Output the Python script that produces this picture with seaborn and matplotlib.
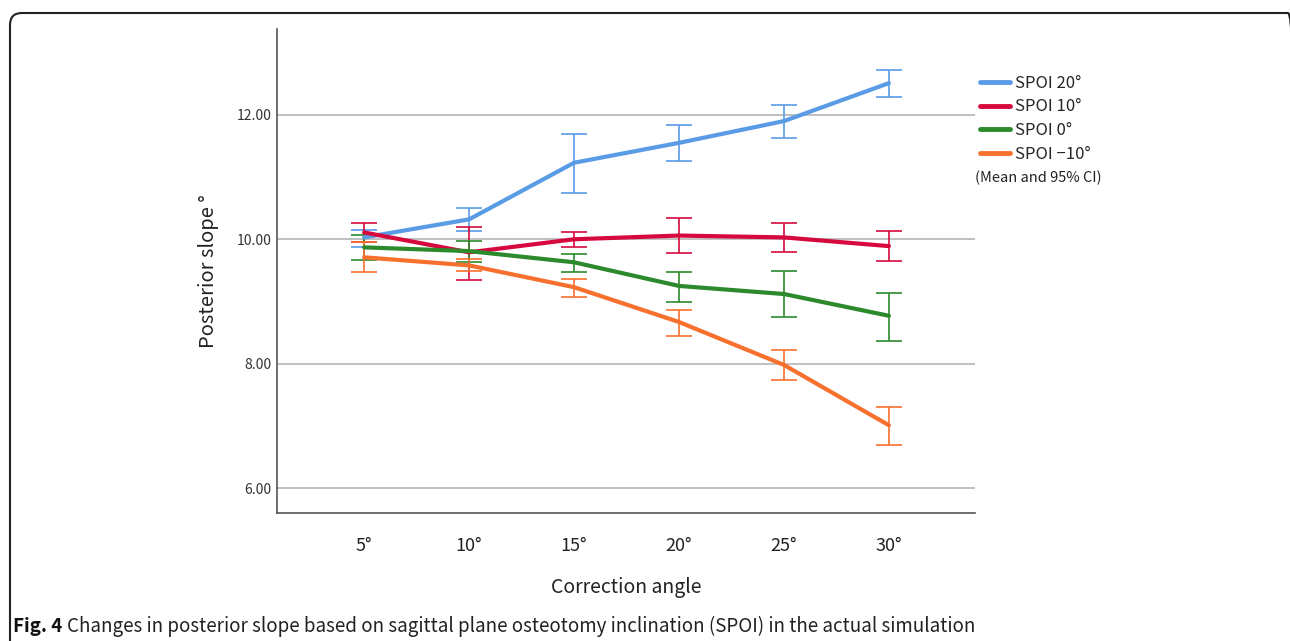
import numpy as np
import pandas as pd
import matplotlib
matplotlib.use("Agg")
import matplotlib.pyplot as plt
import seaborn as sns
from matplotlib.patches import FancyBboxPatch
from matplotlib.lines import Line2D

# ---- data ----
angles = ["5°", "10°", "15°", "20°", "25°", "30°"]
series_names = ["SPOI 20°", "SPOI 10°", "SPOI 0°", "SPOI \u221210°"]

spoi20_mean = [10.03, 10.32, 11.23, 11.55, 11.90, 12.51]
spoi20_lo = [9.87, 10.13, 10.74, 11.26, 11.63, 12.29]
spoi20_hi = [10.15, 10.51, 11.70, 11.84, 12.16, 12.72]

spoi10_mean = [10.11, 9.79, 10.00, 10.06, 10.03, 9.89]
spoi10_lo = [9.95, 9.35, 9.88, 9.78, 9.79, 9.65]
spoi10_hi = [10.26, 10.19, 10.12, 10.34, 10.26, 10.13]

spoi0_mean = [9.87, 9.81, 9.63, 9.25, 9.12, 8.77]
spoi0_lo = [9.67, 9.63, 9.47, 8.99, 8.75, 8.37]
spoi0_hi = [10.07, 9.97, 9.76, 9.47, 9.49, 9.14]

spoim10_mean = [9.71, 9.58, 9.23, 8.67, 7.98, 7.01]
spoim10_lo = [9.47, 9.49, 9.07, 8.45, 7.73, 6.70]
spoim10_hi = [9.95, 9.68, 9.36, 8.86, 8.22, 7.30]

colors = ["#5A9BE6", "#D6093E", "#2C8A2C", "#F7702E"]

means = [spoi20_mean, spoi10_mean, spoi0_mean, spoim10_mean]
los = [spoi20_lo, spoi10_lo, spoi0_lo, spoim10_lo]
his = [spoi20_hi, spoi10_hi, spoi0_hi, spoim10_hi]

rows = []
for name, m, lo, hi in zip(series_names, means, los, his):
    for a, v, l, h in zip(angles, m, lo, hi):
        rows.append({"angle": a, "series": name, "mean": v, "lo": l, "hi": h})
df = pd.DataFrame(rows)

sns.set_style("white")
plt.rcParams["font.family"] = ["Noto Sans CJK KR", "DejaVu Sans"]

W, H = 1290, 641
fig = plt.figure(figsize=(W / 100, H / 100), dpi=100)
ax = fig.add_axes([277 / W, 1 - 513 / H, (975 - 277) / W, (513 - 29) / H])

# gridlines
for yv in [6, 8, 10, 12]:
    ax.axhline(yv, color="#b5b5b5", lw=1.2, zorder=0)

palette = dict(zip(series_names, colors))
sns.lineplot(data=df, x="angle", y="mean", hue="series", hue_order=series_names,
             palette=palette, lw=3.0, ax=ax, legend=False, sort=False, zorder=3)

xpos = np.arange(len(angles))
for name, c in zip(series_names, colors):
    sub = df[df["series"] == name]
    ax.errorbar(xpos, sub["mean"], yerr=[sub["mean"] - sub["lo"], sub["hi"] - sub["mean"]],
                fmt="none", ecolor=c, elinewidth=1.2, capsize=9.4, capthick=1.2, zorder=2)

ax.set_xlim(-0.83, 5.82)
ax.set_ylim(5.6, 13.38)
ax.set_yticks([6, 8, 10, 12])
ax.set_yticklabels(["6.00", "8.00", "10.00", "12.00"])
ax.tick_params(axis="y", length=0, pad=4, labelsize=10, labelcolor="#333333")
ax.tick_params(axis="x", length=10, width=1.2, color="#b5b5b5", pad=7, labelsize=13,
               labelcolor="#222222")
for s in ["top", "right"]:
    ax.spines[s].set_visible(False)
for s in ["left", "bottom"]:
    ax.spines[s].set_color("#555555")
    ax.spines[s].set_linewidth(1.2)

ax.set_xlabel("Correction angle", fontsize=14, color="#222222", labelpad=16)
ax.set_ylabel("Posterior slope °", fontsize=14.5, color="#222222", labelpad=13)

handles = [Line2D([0], [0], color=c, lw=3.5) for c in colors]
fig.legend(handles, series_names, loc="upper left", bbox_to_anchor=(973 / W, 1 - 68 / H),
           frameon=False, fontsize=12, handlelength=1.8, handletextpad=0.3,
           labelspacing=0.4, borderaxespad=0)
fig.text(975 / W, 1 - 178 / H, "(Mean and 95% CI)", fontsize=10.5, va="center", ha="left",
         color="#222222")

# frame (pixel coordinates)
box = FancyBboxPatch((10, -100), 1290, 100 + H - 13,
                     boxstyle="round,pad=0,rounding_size=12", transform=None,
                     fill=False, ec="#222222", lw=1.5, clip_on=False)
fig.add_artist(box)

# caption
t1 = fig.text(13 / W, 1 - 626 / H, "Fig. 4", fontsize=13.5, fontweight="bold",
              va="center", ha="left", color="#111111")
fig.canvas.draw()
bb = t1.get_window_extent()
fig.text((bb.x1 + 5) / W, 1 - 626 / H,
         "Changes in posterior slope based on sagittal plane osteotomy inclination (SPOI) in the actual simulation",
         fontsize=13.5, va="center", ha="left", color="#222222")

fig.savefig("out.png", dpi=100)
